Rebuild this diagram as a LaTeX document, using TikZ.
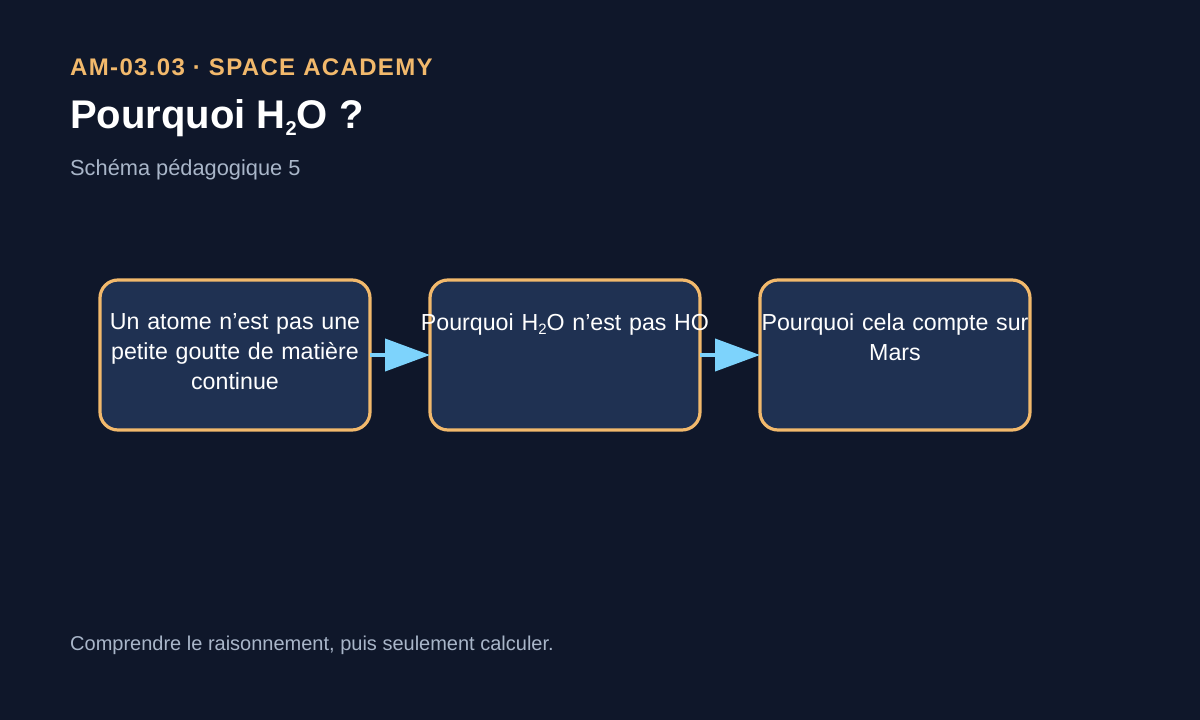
\documentclass[tikz,border=0pt]{standalone}
\usepackage{fontspec}
\setmainfont{Liberation Sans}
\usetikzlibrary{arrows.meta,positioning}
\definecolor{bgnavy}{HTML}{0F172A}
\definecolor{boxfill}{HTML}{1F3152}
\definecolor{boxedge}{HTML}{F2B96C}
\definecolor{flowblue}{HTML}{7DD3FC}
\definecolor{softgray}{HTML}{A9B6C9}
% small lowered "2" for H2O
\newcommand\subtwo[2]{\raisebox{-#2}{\fontsize{#1}{#1}\selectfont 2}}
\begin{document}
\begin{tikzpicture}[x=1pt,y=-1pt,
  box/.style={draw=boxedge, fill=boxfill, line width=3.2pt, rounded corners=18pt, minimum width=270pt, minimum height=150pt, inner sep=0pt, outer sep=0pt},
  boxtext/.style={text=white, font=\fontsize{23.2}{30}\selectfont, text width=300pt, align=center, anchor=north, inner sep=0pt},
  flow/.style={draw=flowblue, line width=4pt, -{Triangle[length=45pt,width=32pt]}}]
\fill[bgnavy] (0,0) rectangle (1200,720);
% header
\node[anchor=base west, inner sep=0pt, text=boxedge, font=\fontsize{24}{28}\selectfont\bfseries\addfontfeature{LetterSpace=5.6}] (tag) at (70,75) {AM-03.03 · SPACE ACADEMY};
\node[anchor=base west, inner sep=0pt, text=white, font=\fontsize{40}{46}\selectfont\bfseries] (title) at (70,128) {Pourquoi H\subtwo{20pt}{7pt}O ?};
\node[anchor=base west, inner sep=0pt, text=softgray, font=\fontsize{21.8}{26}\selectfont] (subtitle) at (70,175) {Schéma pédagogique 5};
% boxes
\node[box] (b1) at (235,355) {};
\node[box, right=60pt of b1] (b2) {};
\node[box, right=60pt of b2] (b3) {};
\node[boxtext] (t1) at ([yshift=-33pt]b1.north) {Un atome n’est pas une\\petite goutte de matière\\continue};
\node[boxtext] (t2) at ([yshift=-33pt]b2.north) {Pourquoi H\subtwo{15pt}{4pt}O n’est pas HO};
\node[boxtext] (t3) at ([yshift=-33pt]b3.north) {Pourquoi cela compte sur\\Mars};
\draw[flow] (b1) -- (b2);
\draw[flow] (b2) -- (b3);
% footer
\node[anchor=base west, inner sep=0pt, text=softgray, font=\fontsize{20}{24}\selectfont] (footer) at (70,650) {Comprendre le raisonnement, puis seulement calculer.};
\end{tikzpicture}
\end{document}
